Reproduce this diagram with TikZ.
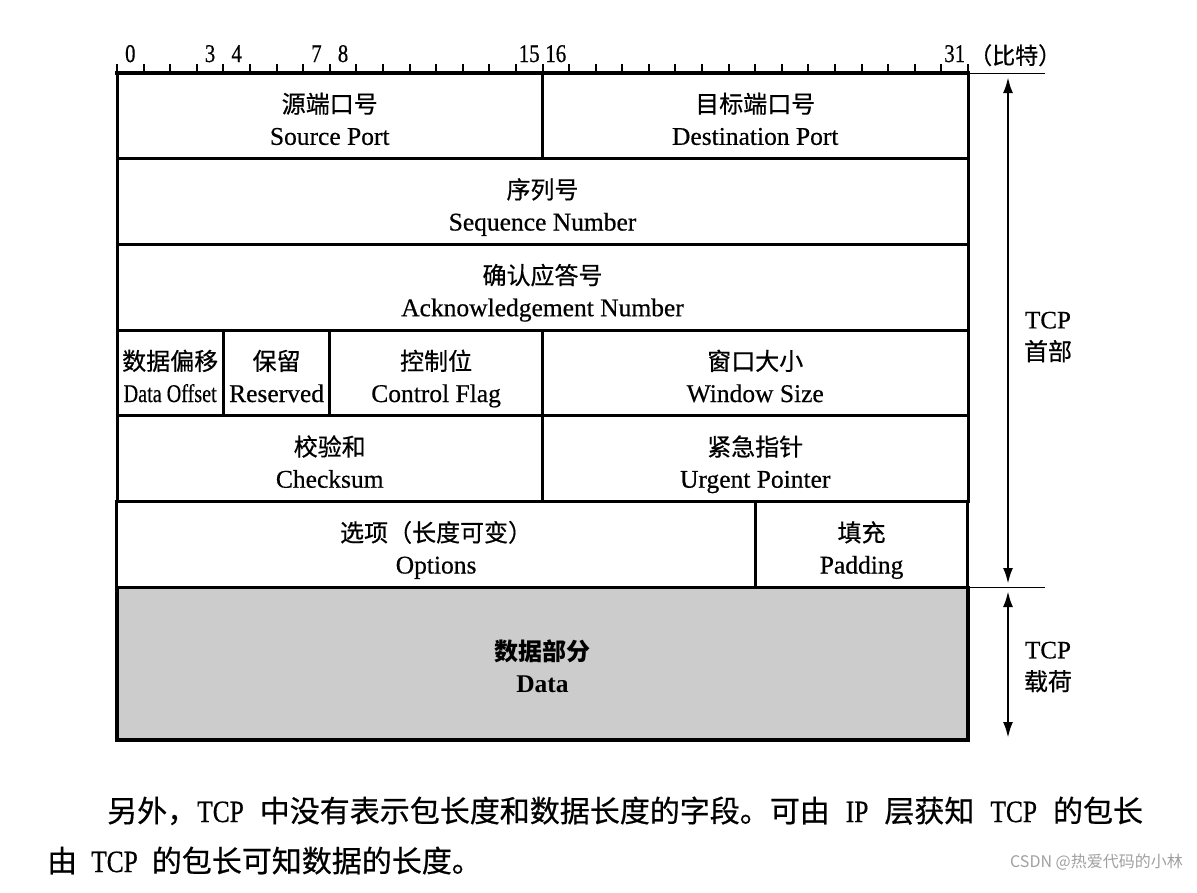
\documentclass[tikz,border=0pt]{standalone}
\usepackage{fontspec}
\setmainfont{Liberation Serif}
\newfontfamily\ser{Liberation Serif}[FakeBold=0.5]
\newfontfamily\cjk{Noto Sans CJK SC}
\newfontfamily\cjkm{Noto Sans CJK SC}[FakeBold=0.6]
\usetikzlibrary{arrows.meta}
\definecolor{datagray}{HTML}{CCCCCC}
\definecolor{wmgray}{HTML}{A0A0A0}
\newcommand\zh[1]{{\cjkm\fontsize{24}{32}\selectfont #1}}
\newcommand\two[2]{\zh{#1}\rule[-3pt]{0pt}{35pt}\\#2\rule[-6pt]{0pt}{24pt}}
\newcommand\gap[1]{\hspace*{#1}}
\newcommand\bz[1]{{\cjkm\fontsize{30}{30}\selectfont #1}}
\newcommand\la[1]{\scalebox{0.82}[1]{#1}}
\begin{document}
\begin{tikzpicture}[x=1pt,y=-1pt,
  cell/.style={draw, line width=3pt, inner sep=0pt, align=center,
     minimum height=85.67pt, font=\ser\fontsize{25.5}{32}\selectfont},
  num/.style={anchor=base, inner sep=0pt, font=\ser\fontsize{25.5}{25.5}\selectfont},
  tick/.style={line width=2pt},
  side/.style={align=center, inner sep=0pt, font=\ser\fontsize{25}{32}\selectfont},
  dblarrow/.style={line width=2.5pt, {Latex[length=16pt,width=10pt]}-{Latex[length=16pt,width=10pt]}},
  thin/.style={line width=1pt}
]
\useasboundingbox (0,0) rectangle (1197,892);
% ruler ticks
\foreach \i in {0,...,32} \draw[tick] ({117+\i*26.594},64) -- ({117+\i*26.594},73);
\foreach \i in {0,3,4,7,8,15,16,31} \node[num] (n\i) at ({117+(\i+0.5)*26.594},62) {\scalebox{0.82}[1]{\i}};
\node[anchor=base west, inner sep=0pt, font=\cjkm\fontsize{23}{23}\selectfont] (unit) at (969,64) {（比特）};
% rows
\node[cell, minimum width=425.5pt] (sp) at (329.75,115.8) {\two{源端口号}{Source Port}};
\node[cell, minimum width=425.5pt] (dp) at (755.25,115.8) {\two{目标端口号}{Destination Port}};
\node[cell, minimum width=851pt] (seq) at (542.5,201.5) {\two{序列号}{Sequence Number}};
\node[cell, minimum width=851pt] (ack) at (542.5,287.2) {\two{确认应答号}{Acknowledgement Number}};
\node[cell, minimum width=106.4pt] (do) at (170.2,373) {\two{数据偏移}{\scalebox{0.79}[1]{Data Offset}}};
\node[cell, minimum width=106.4pt] (rs) at (276.6,373) {\two{保留}{Reserved}};
\node[cell, minimum width=212.75pt] (cf) at (436.1,373) {\two{控制位}{Control Flag}};
\node[cell, minimum width=425.5pt] (ws) at (755.25,373) {\two{窗口大小}{Window Size}};
\node[cell, minimum width=425.5pt] (ck) at (329.75,458.7) {\two{校验和}{Checksum}};
\node[cell, minimum width=425.5pt] (up) at (755.25,458.7) {\two{紧急指针}{Urgent Pointer}};
\node[cell, minimum width=638.25pt] (op) at (436.1,544.5) {\two{选项（长度可变）}{Options}};
\node[cell, minimum width=212.75pt] (pd) at (861.6,544.5) {\two{填充}{Padding}};
\node[cell, fill=datagray, minimum width=851pt, minimum height=152.7pt, line width=3.5pt] (data) at (542.5,663.6)
  {{\cjk\bfseries\fontsize{24}{32}\selectfont 数据部分}\rule[-3pt]{0pt}{35pt}\\{\normalfont\bfseries\fontsize{25.5}{32}\selectfont Data}\rule[-6pt]{0pt}{24pt}};
% ruler main line
\draw[line width=4.5pt] (115,73) -- (970,73);
\draw[thin] (970,73) -- (1045,73);
\draw[thin] (970,587.3) -- (1045,587.3);
% side arrows
\coordinate (h1) at (1008,77);
\coordinate (h2) at (1008,584);
\coordinate (p1) at (1008,591);
\coordinate (p2) at (1008,738);
\draw[dblarrow] (h1) -- (h2);
\draw[dblarrow] (p1) -- (p2);
\node[side] (hdr) at (1048,337) {TCP\\\zh{首部}};
\node[side] (pay) at (1048,667) {TCP\\\zh{载荷}};
% bottom text
\node[anchor=base west, inner sep=0pt, font=\ser\fontsize{31}{31}\selectfont] (t1) at (107,822)
  {\bz{另外，}\la{TCP}\gap{16pt}\bz{中没有表示包长度和数据长度的字段。可由}\gap{16pt}\la{IP}\gap{16pt}\bz{层获知}\gap{16pt}\la{TCP}\gap{16pt}\bz{的包长}};
\node[anchor=base west, inner sep=0pt, font=\ser\fontsize{31}{31}\selectfont] (t2) at (47,872)
  {\bz{由}\gap{14pt}\la{TCP}\gap{14pt}\bz{的包长可知数据的长度。}};
\node[anchor=east, inner sep=0pt, text=wmgray, font=\cjk\fontsize{16}{16}\selectfont] (wm) at (1183,862) {CSDN @热爱代码的小林};
\end{tikzpicture}
\end{document}
